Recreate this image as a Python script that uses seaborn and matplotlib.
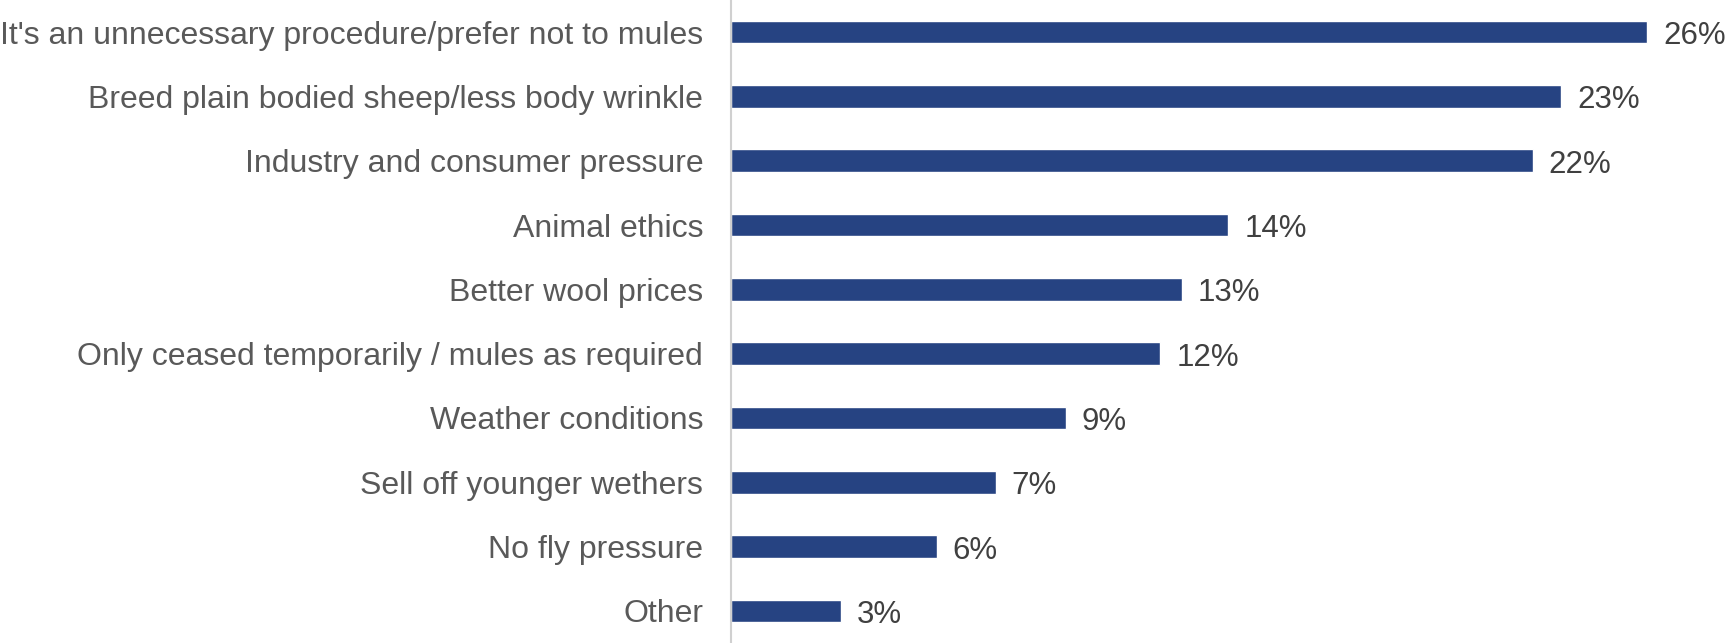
import matplotlib
matplotlib.use('Agg')
import matplotlib.pyplot as plt
import seaborn as sns
import pandas as pd

reasons = [
    "It's an unnecessary procedure/prefer not to mules",
    "Breed plain bodied sheep/less body wrinkle",
    "Industry and consumer pressure",
    "Animal ethics",
    "Better wool prices",
    "Only ceased temporarily / mules as required",
    "Weather conditions",
    "Sell off younger wethers",
    "No fly pressure",
    "Other",
]
shares = [25.6, 23.2, 22.4, 13.9, 12.6, 12.0, 9.35, 7.4, 5.75, 3.07]
value_labels = ["26%", "23%", "22%", "14%", "13%", "12%", "9%", "7%", "6%", "3%"]

df = pd.DataFrame({'Reason': reasons, 'Share': shares})

sns.set_style('white')
plt.rcParams['font.family'] = ['Liberation Sans', 'DejaVu Sans']

fig = plt.figure(figsize=(17.3, 6.43), dpi=100)
ax = fig.add_axes([0.4225, 0.0, 0.569, 1.0])

sns.barplot(data=df, x='Share', y='Reason', orient='h', color='#264382',
            saturation=1, width=0.35, ax=ax)

# value labels at the end of each bar
for i, (v, lab) in enumerate(zip(shares, value_labels)):
    ax.annotate(lab, xy=(v, i), xytext=(16, -4), textcoords='offset pixels',
                va='center', ha='left', fontsize=22.5, color='#404040',
                annotation_clip=False)

ax.set_xlim(0, 27.5)
ax.set_ylim(9.5, -0.5)
ax.set_xlabel('')
ax.set_ylabel('')
ax.set_xticks([])
ax.tick_params(axis='y', length=0, pad=20, labelsize=23, labelcolor='#595959')
for s in ['top', 'right', 'bottom']:
    ax.spines[s].set_visible(False)
ax.spines['left'].set_color('#d0d0d0')
ax.spines['left'].set_linewidth(1.5)

fig.savefig('out.png', dpi=100)
